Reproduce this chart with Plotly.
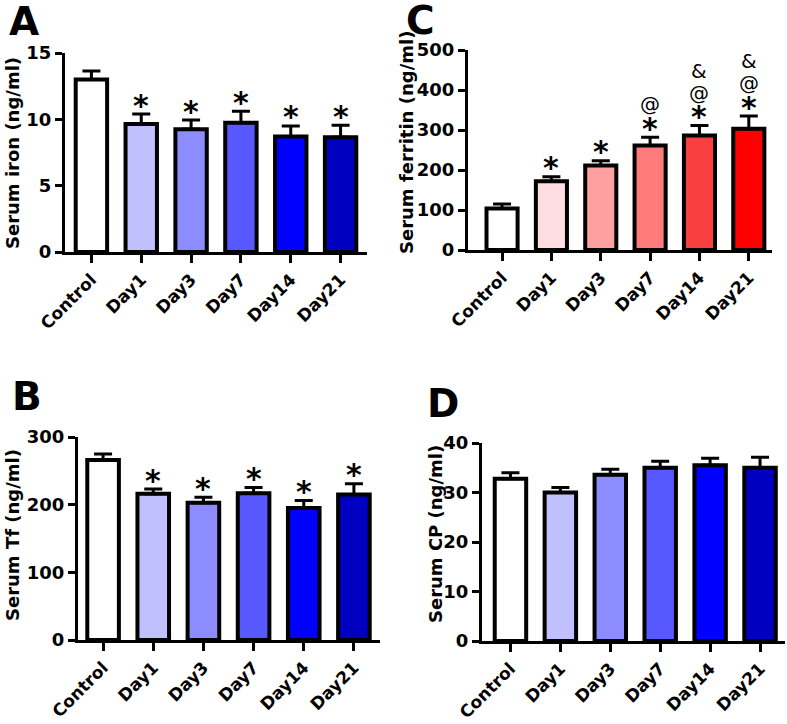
import plotly.graph_objects as go

W, H = 787, 724
FONT = "DejaVu Sans"

groups = ["Control", "Day1", "Day3", "Day7", "Day14", "Day21"]

iron_mean = [13.0, 9.65, 9.25, 9.75, 8.7, 8.65]
iron_sem = [0.65, 0.75, 0.7, 0.85, 0.8, 0.9]

ferritin_mean = [104, 172, 211, 261, 286, 303]
ferritin_sem = [11, 11, 12, 21, 25, 32]

tf_mean = [266, 216, 203, 217, 195, 215]
tf_sem = [9, 7, 8, 8.5, 11, 16]

cp_mean = [32.8, 30.0, 33.6, 35.0, 35.5, 35.0]
cp_sem = [1.2, 1.0, 1.1, 1.3, 1.4, 2.1]

blues = ["#ffffff", "#c0c0ff", "#8c8cff", "#5858ff", "#0000ff", "#0000c0"]
reds = ["#ffffff", "#ffdde0", "#ffa0a0", "#ff7a7a", "#f84040", "#ff0000"]

# significance marks (bottom to top) per group
iron_marks = [[], ["*"], ["*"], ["*"], ["*"], ["*"]]
ferritin_marks = [[], ["*"], ["*"], ["*", "@"], ["*", "@", "&"], ["*", "@", "&"]]
tf_marks = [[], ["*"], ["*"], ["*"], ["*"], ["*"]]
cp_marks = [[], [], [], [], [], []]


def px_x(p):
    return p / W


def px_y(p):
    return 1 - p / H


# panel: (letter, title, means, sems, colors, marks, x px span, y px span, y max, dtick, x range,
#         letter pos, title pos)
panels = [
    ("A", "Serum iron (ng/ml)", iron_mean, iron_sem, blues, iron_marks,
     (65, 367), (53, 252), 15, 5, (-0.53, 5.53), (24, 21), (12, 153)),
    ("C", "Serum ferritin (ng/ml)", ferritin_mean, ferritin_sem, reds, ferritin_marks,
     (468, 772), (50, 250), 500, 100, (-0.69, 5.47), (421, 20), (407, 143)),
    ("B", "Serum Tf (ng/ml)", tf_mean, tf_sem, blues, tf_marks,
     (78, 380), (437, 640), 300, 100, (-0.5, 5.52), (27, 396), (12, 535)),
    ("D", "Serum CP (ng/ml)", cp_mean, cp_sem, blues, cp_marks,
     (482, 785), (443, 641), 40, 10, (-0.57, 5.5), (443, 403), (435, 534)),
]

fig = go.Figure()
annotations = []

for i, (letter, title, means, sems, colors, marks, xs, ys, ymax, dtick, xr, lpos, tpos) in enumerate(panels):
    n = "" if i == 0 else str(i + 1)
    xa, ya = "x" + n, "y" + n
    fig.add_trace(go.Bar(
        x=groups, y=means, xaxis=xa, yaxis=ya, width=0.63,
        marker=dict(color=colors, line=dict(color="black", width=4)),
        error_y=dict(type="data", array=sems, arrayminus=[0] * len(sems), symmetric=False,
                     color="black", thickness=3, width=9),
        showlegend=False,
    ))
    fig.layout["xaxis" + n] = dict(
        domain=[px_x(xs[0]), px_x(xs[1])], anchor=ya, range=list(xr), automargin=False,
        showline=True, linewidth=3, linecolor="black", ticks="outside", ticklen=8,
        tickwidth=3, tickcolor="black", tickangle=-45, showgrid=False,
        tickfont=dict(family=FONT, size=17, color="black", weight="bold"),
    )
    fig.layout["yaxis" + n] = dict(
        domain=[px_y(ys[1]), px_y(ys[0])], anchor=xa, range=[0, ymax], dtick=dtick,
        automargin=False, showline=True, linewidth=3, linecolor="black", ticks="outside",
        ticklen=7, tickwidth=3, tickcolor="black", showgrid=False, zeroline=False,
        tickfont=dict(family=FONT, size=18, color="black", weight="bold"),
    )
    annotations.append(dict(
        text=letter, x=px_x(lpos[0]), y=px_y(lpos[1]), xref="paper", yref="paper",
        xanchor="center", yanchor="middle", showarrow=False,
        font=dict(family=FONT, size=39, color="black", weight="bold"),
    ))
    annotations.append(dict(
        text=title, x=px_x(tpos[0]), y=px_y(tpos[1]), xref="paper", yref="paper",
        xanchor="center", yanchor="middle", textangle=-90, showarrow=False,
        font=dict(family=FONT, size=18, color="black", weight="bold"),
    ))
    for g, m, s, mk in zip(groups, means, sems, marks):
        shift = 0
        for sym in mk:
            if sym == "*":
                annotations.append(dict(
                    text="*", x=g, y=m + s, xref=xa, yref=ya, xanchor="center",
                    yanchor="middle", yshift=9, showarrow=False,
                    font=dict(family=FONT, size=30, color="black", weight="bold"),
                ))
                shift = 33
            else:
                annotations.append(dict(
                    text=sym, x=g, y=m + s, xref=xa, yref=ya, xanchor="center",
                    yanchor="middle", yshift=shift, showarrow=False,
                    font=dict(family=FONT, size=20, color="black"),
                ))
                shift += 22

fig.update_layout(
    width=W, height=H, margin=dict(l=0, r=0, t=0, b=0, autoexpand=False),
    paper_bgcolor="white", plot_bgcolor="white",
    annotations=annotations, bargap=0.3,
)

fig.write_html("out.html", config={"displayModeBar": False},
               post_script="document.body.style.margin='0';")
